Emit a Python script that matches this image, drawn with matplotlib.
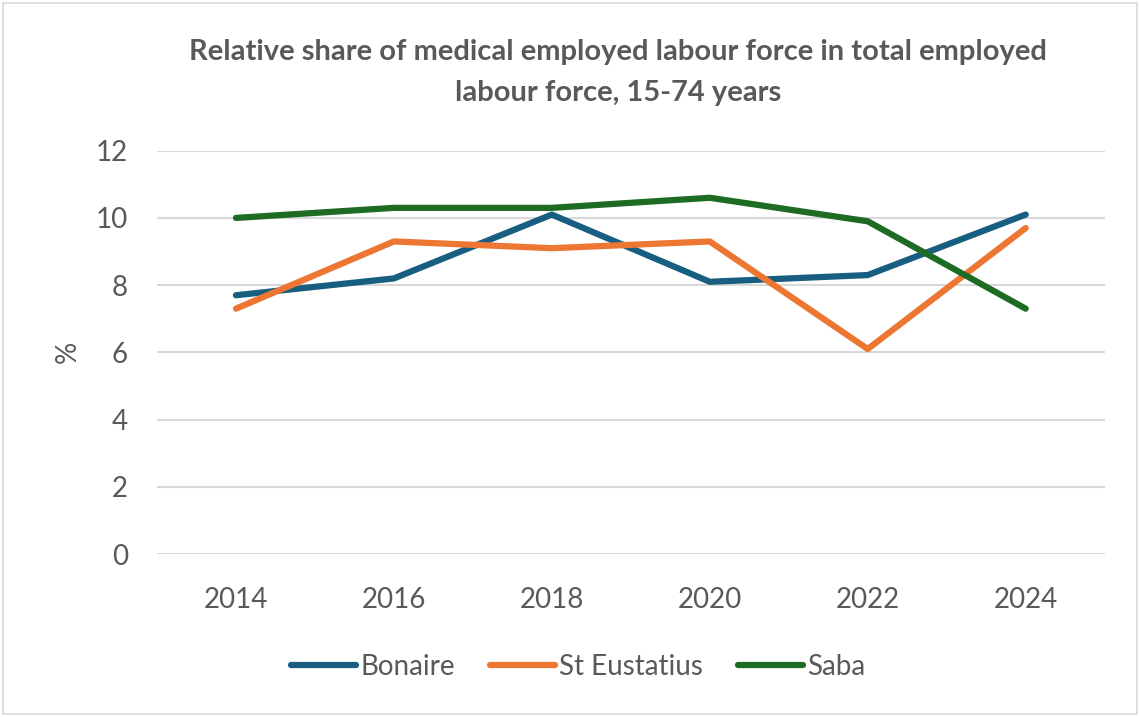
import matplotlib.pyplot as plt
from matplotlib.patches import Rectangle

plt.rcParams['font.family'] = ['Lato', 'DejaVu Sans']

years = ['2014', '2016', '2018', '2020', '2022', '2024']
bonaire = [7.7, 8.2, 10.1, 8.1, 8.3, 10.1]
st_eustatius = [7.3, 9.3, 9.1, 9.3, 6.1, 9.7]
saba = [10.0, 10.3, 10.3, 10.6, 9.9, 7.3]

series = [
    ('Bonaire', bonaire, '#175E80'),
    ('St Eustatius', st_eustatius, '#EC7632'),
    ('Saba', saba, '#1E6B24'),
]

text_col = '#595959'

fig = plt.figure(figsize=(11.4, 7.17), dpi=100)
ax = fig.add_axes([0.1377, 0.2273, 0.8313, 0.5625])

x = range(len(years))
for name, vals, col in series:
    ax.plot(x, vals, color=col, lw=4.5, label=name,
            solid_capstyle='round', solid_joinstyle='round')

ax.set_xlim(-0.5, len(years) - 0.5)
ax.set_ylim(0, 12)
ax.set_yticks(range(0, 13, 2))
ax.set_xticks(list(x))
ax.set_xticklabels(years)
ax.grid(axis='y', color='#d9d9d9', lw=1.5)
ax.set_axisbelow(True)
for s in ax.spines.values():
    s.set_visible(False)
ax.tick_params(length=0, colors=text_col, labelsize=20)
ax.tick_params(axis='x', pad=24)
ax.tick_params(axis='y', pad=21)

# y label placed by hand like excel does
fig.text(0.059, 0.509, '%', rotation=90, ha='center', va='center',
         color=text_col, fontsize=20)

fig.text(0.542, 0.899, 'Relative share of medical employed labour force in total employed\nlabour force, 15-74 years',
         ha='center', va='center', fontsize=21, fontweight='bold', color=text_col,
         linespacing=1.75)

fig.legend(*ax.get_legend_handles_labels(), loc='center',
           bbox_to_anchor=(0.507, 0.07), ncol=3, frameon=False,
           fontsize=20, handlelength=2.35, handletextpad=0.15, columnspacing=1.25,
           labelcolor=text_col)

fig.patches.append(Rectangle((0.003, 0.004), 0.994, 0.992, transform=fig.transFigure,
                             fill=False, edgecolor='#d9d9d9', lw=1.2))

fig.savefig('out.png', dpi=100)
